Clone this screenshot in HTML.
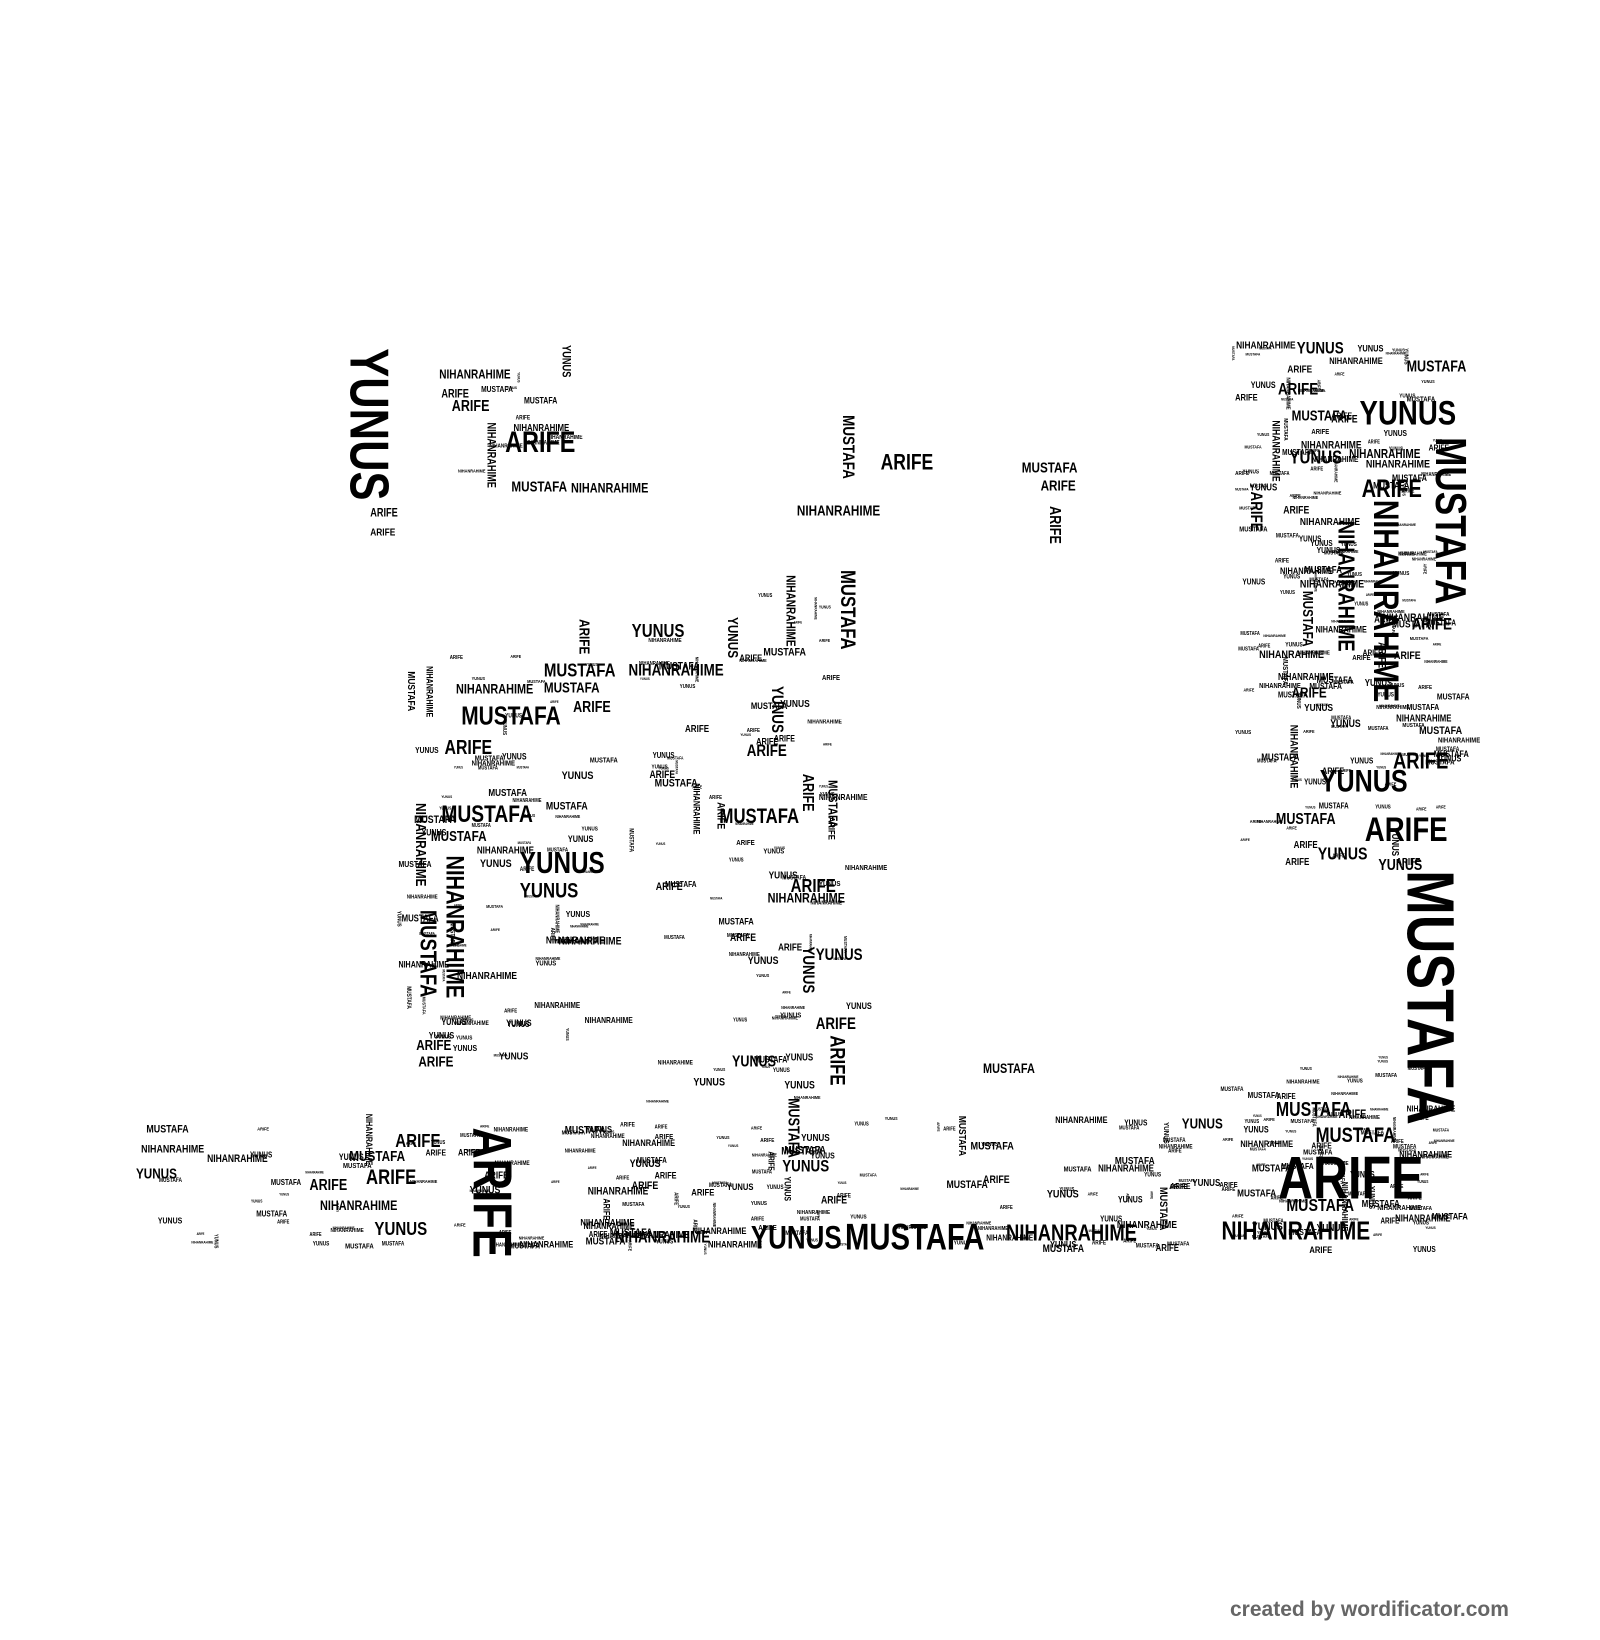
<!DOCTYPE html>
<html><head><meta charset="utf-8"><style>
html,body{margin:0;padding:0;background:#fff;width:1600px;height:1640px;overflow:hidden}
#c{position:absolute;left:0;top:0;width:1530px;height:1568px;transform:scale(1.0458);transform-origin:0 0}
#c span{position:absolute;font-family:"Liberation Sans",sans-serif;font-weight:bold;color:#000;white-space:nowrap;line-height:1;transform-origin:0 0;transform:scaleX(.8)}
#c span.v{transform:rotate(90deg) scaleX(.8)}
#foot{position:absolute;left:1230px;top:1598px;font-family:"Liberation Sans",sans-serif;font-weight:bold;font-size:21px;color:#666}
</style></head><body>
<div id="c">
<span class="v" style="left:378px;top:333px;font-size:52px">YUNUS</span>
<span style="left:420px;top:352px;font-size:12px">NIHANRAHIME</span>
<span style="left:422px;top:372px;font-size:11px">ARIFE</span>
<span style="left:432px;top:381px;font-size:15px">ARIFE</span>
<span style="left:483px;top:409px;font-size:28px">ARIFE</span>
<span style="left:489px;top:458px;font-size:14px">MUSTAFA</span>
<span style="left:546px;top:460px;font-size:13px">NIHANRAHIME</span>
<span class="v" style="left:474px;top:404px;font-size:11px">NIHANRAHIME</span>
<span class="v" style="left:546px;top:330px;font-size:11px">YUNUS</span>
<span style="left:354px;top:486px;font-size:11px">ARIFE</span>
<span style="left:354px;top:505px;font-size:10px">ARIFE</span>
<span style="left:762px;top:481px;font-size:14px">NIHANRAHIME</span>
<span class="v" style="left:818px;top:397px;font-size:16px">MUSTAFA</span>
<span style="left:842px;top:432px;font-size:21px">ARIFE</span>
<span style="left:977px;top:440px;font-size:14px">MUSTAFA</span>
<span style="left:995px;top:457px;font-size:14px">ARIFE</span>
<span class="v" style="left:1016px;top:484px;font-size:15px">ARIFE</span>
<span style="left:1240px;top:326px;font-size:16px">YUNUS</span>
<span style="left:1345px;top:343px;font-size:15px">MUSTAFA</span>
<span style="left:1222px;top:365px;font-size:16px">ARIFE</span>
<span style="left:1300px;top:378px;font-size:33px">YUNUS</span>
<span style="left:1235px;top:390px;font-size:14px">MUSTAFA</span>
<span style="left:1233px;top:428px;font-size:18px">YUNUS</span>
<span style="left:1290px;top:428px;font-size:12px">NIHANRAHIME</span>
<span class="v" style="left:1408px;top:418px;font-size:42px">MUSTAFA</span>
<span style="left:1302px;top:456px;font-size:24px">ARIFE</span>
<span class="v" style="left:1342px;top:478px;font-size:34px">NIHANRAHIME</span>
<span class="v" style="left:1298px;top:498px;font-size:22px">NIHANRAHIME</span>
<span class="v" style="left:1208px;top:470px;font-size:16px">ARIFE</span>
<span class="v" style="left:1258px;top:565px;font-size:14px">MUSTAFA</span>
<span style="left:1350px;top:590px;font-size:16px">ARIFE</span>
<span style="left:1235px;top:655px;font-size:14px">ARIFE</span>
<span style="left:1262px;top:733px;font-size:30px">YUNUS</span>
<span style="left:1332px;top:717px;font-size:22px">ARIFE</span>
<span style="left:1220px;top:776px;font-size:15px">MUSTAFA</span>
<span style="left:1305px;top:776px;font-size:33px">ARIFE</span>
<span style="left:1260px;top:808px;font-size:17px">YUNUS</span>
<span style="left:1318px;top:820px;font-size:15px">YUNUS</span>
<span class="v" style="left:1400px;top:832px;font-size:64px">MUSTAFA</span>
<span style="left:1222px;top:1098px;font-size:58px">ARIFE</span>
<span style="left:1258px;top:1076px;font-size:20px">MUSTAFA</span>
<span style="left:1220px;top:1052px;font-size:19px">MUSTAFA</span>
<span style="left:1230px;top:1144px;font-size:17px">MUSTAFA</span>
<span style="left:1168px;top:1165px;font-size:25px">NIHANRAHIME</span>
<span style="left:718px;top:1168px;font-size:31px">YUNUS</span>
<span style="left:808px;top:1166px;font-size:35px">MUSTAFA</span>
<span style="left:962px;top:1168px;font-size:22px">NIHANRAHIME</span>
<span style="left:588px;top:1176px;font-size:16px">NIHANRAHIME</span>
<span class="v" style="left:496px;top:1078px;font-size:52px">ARIFE</span>
<span style="left:350px;top:1116px;font-size:20px">ARIFE</span>
<span style="left:378px;top:1082px;font-size:18px">ARIFE</span>
<span style="left:296px;top:1126px;font-size:15px">ARIFE</span>
<span style="left:306px;top:1146px;font-size:13px">NIHANRAHIME</span>
<span style="left:358px;top:1166px;font-size:18px">YUNUS</span>
<span style="left:334px;top:1098px;font-size:14px">MUSTAFA</span>
<span style="left:441px;top:673px;font-size:25px">MUSTAFA</span>
<span style="left:422px;top:767px;font-size:23px">MUSTAFA</span>
<span style="left:497px;top:812px;font-size:29px">YUNUS</span>
<span style="left:497px;top:842px;font-size:20px">YUNUS</span>
<span class="v" style="left:446px;top:818px;font-size:24px">NIHANRAHIME</span>
<span class="v" style="left:420px;top:870px;font-size:22px">MUSTAFA</span>
<span class="v" style="left:410px;top:768px;font-size:14px">NIHANRAHIME</span>
<span style="left:425px;top:706px;font-size:19px">ARIFE</span>
<span style="left:412px;top:792px;font-size:14px">MUSTAFA</span>
<span style="left:398px;top:992px;font-size:14px">ARIFE</span>
<span style="left:400px;top:1008px;font-size:14px">ARIFE</span>
<span style="left:520px;top:632px;font-size:18px">MUSTAFA</span>
<span style="left:520px;top:650px;font-size:14px">MUSTAFA</span>
<span style="left:436px;top:652px;font-size:13px">NIHANRAHIME</span>
<span style="left:548px;top:669px;font-size:15px">ARIFE</span>
<span style="left:601px;top:634px;font-size:16px">NIHANRAHIME</span>
<span style="left:604px;top:594px;font-size:18px">YUNUS</span>
<span class="v" style="left:820px;top:545px;font-size:20px">MUSTAFA</span>
<span class="v" style="left:762px;top:550px;font-size:12px">NIHANRAHIME</span>
<span class="v" style="left:566px;top:592px;font-size:14px">ARIFE</span>
<span class="v" style="left:708px;top:590px;font-size:14px">YUNUS</span>
<span style="left:688px;top:771px;font-size:20px">MUSTAFA</span>
<span style="left:714px;top:711px;font-size:16px">ARIFE</span>
<span class="v" style="left:780px;top:740px;font-size:15px">ARIFE</span>
<span class="v" style="left:802px;top:746px;font-size:12px">MUSTAFA</span>
<span class="v" style="left:750px;top:656px;font-size:16px">YUNUS</span>
<span style="left:756px;top:838px;font-size:18px">ARIFE</span>
<span style="left:734px;top:852px;font-size:13px">NIHANRAHIME</span>
<span style="left:780px;top:906px;font-size:16px">YUNUS</span>
<span class="v" style="left:780px;top:905px;font-size:16px">YUNUS</span>
<span style="left:780px;top:972px;font-size:16px">ARIFE</span>
<span class="v" style="left:810px;top:990px;font-size:20px">ARIFE</span>
<span class="v" style="left:766px;top:1050px;font-size:15px">MUSTAFA</span>
<span style="left:748px;top:1108px;font-size:16px">YUNUS</span>
<span style="left:700px;top:1008px;font-size:15px">YUNUS</span>
<span style="left:940px;top:1015px;font-size:13px">MUSTAFA</span>
<span style="left:1130px;top:1067px;font-size:14px">YUNUS</span>
<span style="left:130px;top:1115px;font-size:14px">YUNUS</span>
</div>
<div id="foot">created by wordificator.com</div>
<script>
(function(){
var W=["YUNUS","ARIFE","MUSTAFA","NIHANRAHIME"];
var s=12345;function r(){s=(s*1103515245+12345)%2147483648;return s/2147483648;}
var R=[[1180,325,1405,830,170],[380,620,600,1020,80],[600,560,840,1200,100],[130,1065,1405,1200,170],[1160,1010,1405,1200,60],[420,340,560,470,10]];
var c=document.getElementById('c');
R.forEach(function(b){for(var i=0;i<b[4];i++){var e=document.createElement('span');
var f=r()<0.65?3+r()*3:7+r()*4;e.style.fontSize=f.toFixed(1)+'px';
var w=W[Math.floor(r()*4)];e.textContent=w;
var x=b[0]+r()*(b[2]-b[0]-30),y=b[1]+r()*(b[3]-b[1]-8);
var len=w.length*f*0.55;
if(r()<0.1&&y+len<b[3]){e.className='v';}
e.style.left=x+'px';e.style.top=y+'px';c.appendChild(e);}});
})();
</script>
</body></html>
